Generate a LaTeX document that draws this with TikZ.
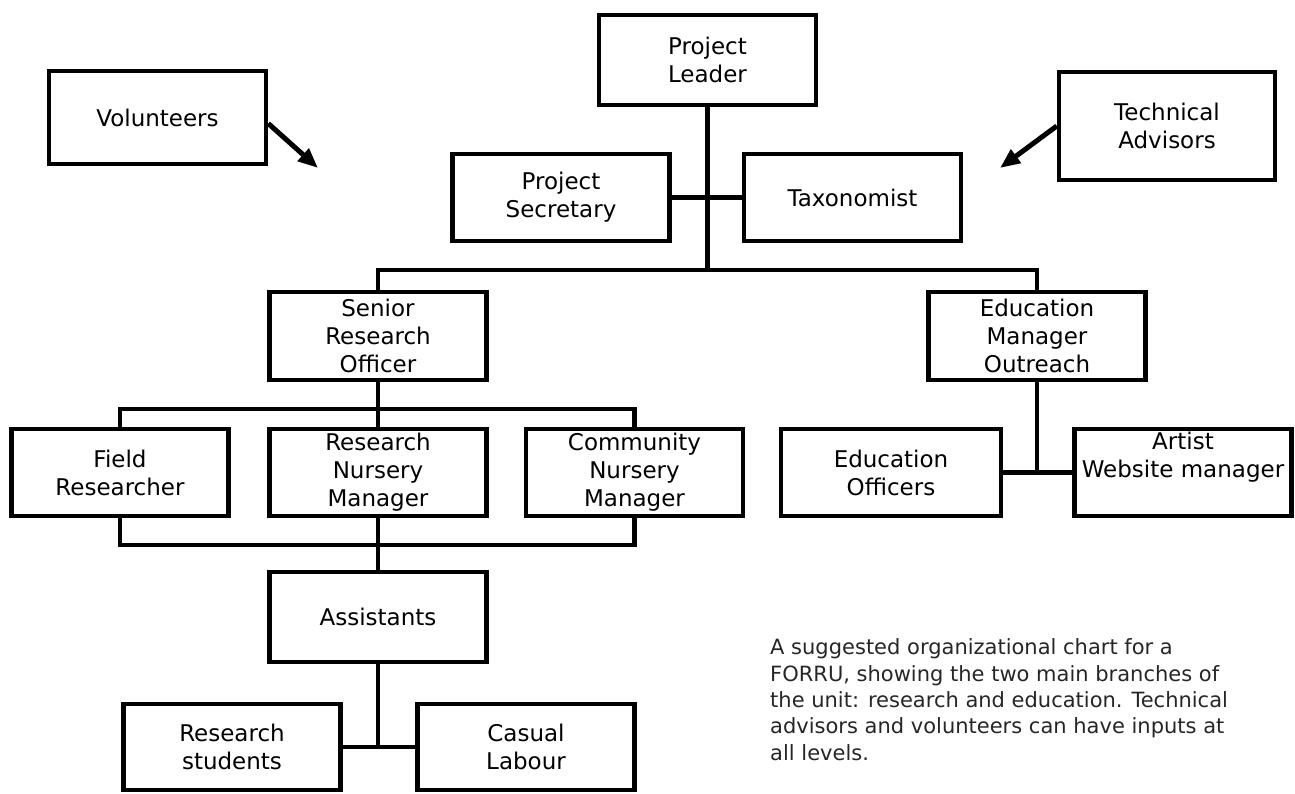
\documentclass[tikz,border=0pt]{standalone}
\usepackage{fontspec}
\setmainfont{DejaVu Sans}
\usetikzlibrary{arrows.meta,calc}

\tikzset{
  role/.style={draw,rectangle,line width=4.5pt,minimum width=217pt,minimum height=88pt,
    inner sep=0pt,align=center,font=\fontsize{23}{28}\selectfont},
  link/.style={line width=4.5pt,line cap=rect},
  input/.style={line width=5pt,-{Triangle[length=20pt,width=16pt]}},
  note/.style={align=left,inner sep=0pt,text=black!85,font=\fontsize{21}{26.3}\selectfont}
}

\begin{document}
\begin{tikzpicture}[x=1pt,y=-1pt]
\useasboundingbox (0,0) rectangle (1295,794);
% top level
\node[role,minimum height=90pt] (leader) at (707.5,60) {Project\\Leader};
\node[role,minimum height=93pt] (volunteers) at (157.5,117.5) {Volunteers};
\node[role,minimum width=216pt,minimum height=108pt] (advisors) at (1167,126) {Technical\\Advisors};
\node[role,minimum height=87pt] (secretary) at (561,197.5) {Project\\Secretary};
\node[role,minimum height=87pt] (taxonomist) at (852.5,197.5) {Taxonomist};
% two branches
\node[role] (senior) at (378,336) {Senior\\Research\\Officer};
\node[role] (eduman) at (1037,336) {Education\\Manager\\Outreach};
% research branch
\node[role,minimum height=87pt] (field) at (120,472.5) {Field\\Researcher};
\node[role,minimum height=87pt] (nursery) at (378,472.5) {Research\\Nursery\\Manager};
\node[role,minimum height=87pt] (community) at (634.5,472.5) {Community\\Nursery\\Manager};
\node[role,minimum height=90pt] (assistants) at (378,617) {Assistants};
\node[role,minimum height=86pt] (students) at (232,747) {Research\\students};
\node[role,minimum height=86pt] (casual) at (526,747) {Casual\\Labour};
% education branch
\node[role,minimum width=220pt,minimum height=87pt] (eduoff) at (891,472.5) {Education\\Officers};
\node[role,minimum height=87pt] (artist) at (1183,472.5) {Artist\\Website manager\\\strut};

\coordinate (topbar) at (707.5,270);
\coordinate (rbar) at (378,409);
\coordinate (lowbar) at (378,545);
\coordinate (voltip) at (318,168);
\coordinate (advtip) at (1000,168);

\draw[link] (leader.south) -- (topbar);
\draw[link] (secretary.east) -- (taxonomist.west);
\draw[link] (senior.north) |- (topbar) -| (eduman.north);
\draw[link] (senior.south) -- (nursery.north);
\draw[link] (field.north) |- (rbar) -| (community.north);
\draw[link] (field.south) |- (lowbar) -| (community.south);
\draw[link] (nursery.south) -- (assistants.north);
\draw[link] (students.east) -- (casual.west);
\draw[link] (assistants.south) -- (assistants.south |- students.east);
\draw[link] (eduoff.east) -- (artist.west);
\draw[link] (eduman.south) -- (eduman.south |- eduoff.east);

\draw[input] ([yshift=-6pt]volunteers.east) -- (voltip);
\draw[input] (advisors.west) -- (advtip);

\node[note,anchor=base west] (caption) at (770,760) {A suggested organizational chart for a\\
FORRU, showing the two main branches of\\
the unit: research and education. Technical\\
advisors and volunteers can have inputs at\\
all levels.};
\end{tikzpicture}
\end{document}
